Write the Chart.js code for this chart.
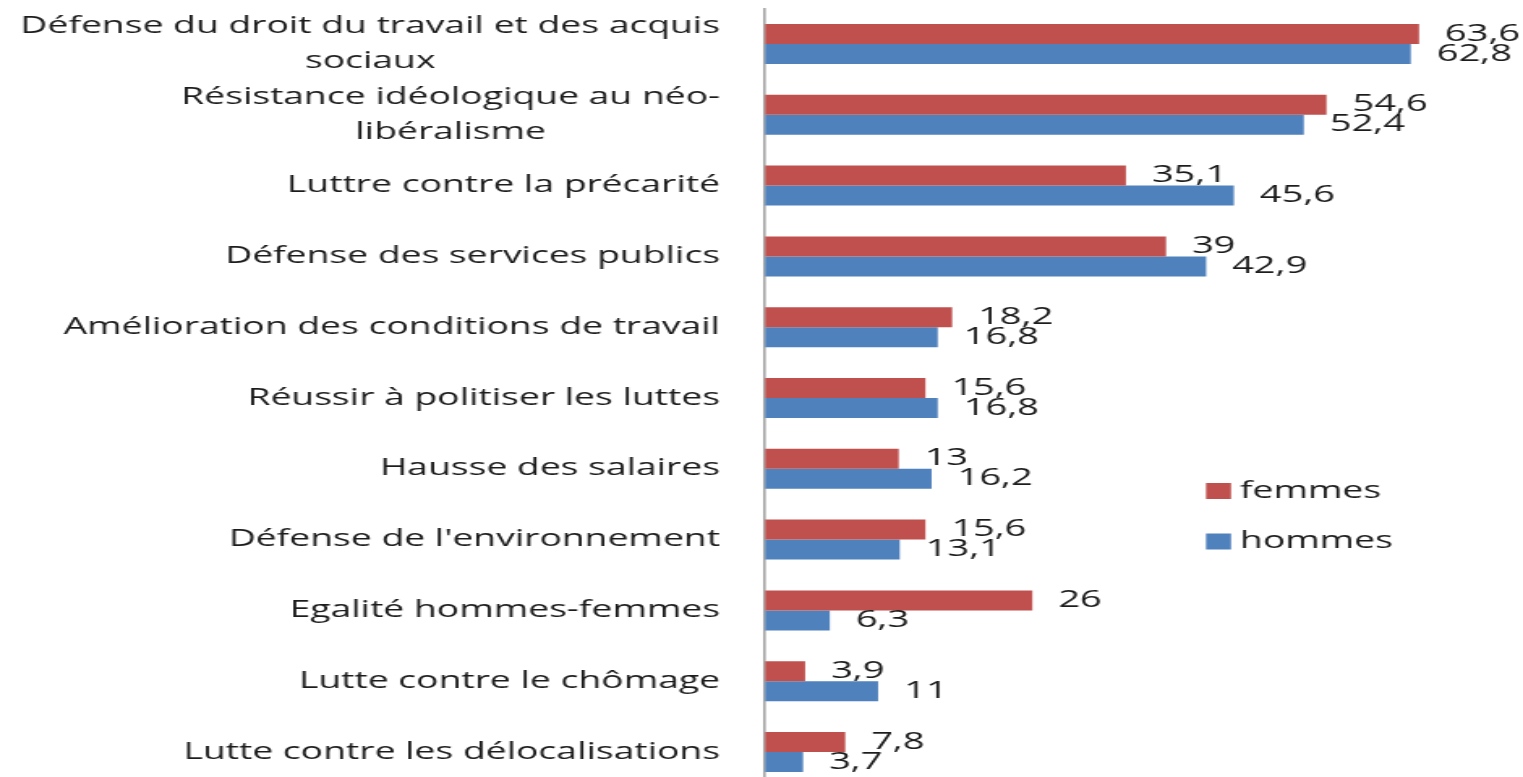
<!DOCTYPE html>
<html>
<head>
<meta charset="utf-8">
<script src="https://cdn.jsdelivr.net/npm/chart.js@4.4.1/dist/chart.umd.min.js"></script>
<style>
  html, body { margin: 0; padding: 0; background: #ffffff; overflow: hidden; }
</style>
</head>
<body>
<canvas id="c" width="940" height="790" style="display:block;width:1523px;height:790px;"></canvas>
<script>
// ---- data ----
const categories = [
  ["Défense du droit du travail et des acquis", "sociaux"],
  ["Résistance idéologique au néo-", "libéralisme"],
  "Luttre contre la précarité",
  "Défense des services publics",
  "Amélioration des conditions de travail",
  "Réussir à politiser les luttes",
  "Hausse des salaires",
  "Défense de l'environnement",
  "Egalité hommes-femmes",
  "Lutte contre le chômage",
  "Lutte contre les délocalisations"
];
const femmes = [63.6, 54.6, 35.1, 39, 18.2, 15.6, 13, 15.6, 26, 3.9, 7.8];
const hommes = [62.8, 52.4, 45.6, 42.9, 16.8, 16.8, 16.2, 13.1, 6.3, 11, 3.7];
const seriesNames = ["femmes", "hommes"];

// ---- layout / style ----
const SX = 1523 / 940;              // horizontal stretch of the picture
const AXIS_X = 765 / SX;            // value-axis origin in canvas px
const FONT = "'Open Sans', 'DejaVu Sans', sans-serif";
const TEXT = '#1c1c1c';
const RED = '#C0504D';
const BLUE = '#4F81BD';

const categoryLabels = {
  id: 'categoryLabels',
  afterDraw(chart) {
    const ctx = chart.ctx;
    const y = chart.scales.y;
    const rightX = 720 / SX;
    ctx.save();
    ctx.font = `23px ${FONT}`;
    ctx.fillStyle = TEXT;
    ctx.textBaseline = 'middle';
    chart.data.labels.forEach((lab, i) => {
      const py = y.getPixelForValue(i);
      const lines = Array.isArray(lab) ? lab : [lab];
      if (lines.length === 1) {
        ctx.textAlign = 'right';
        ctx.fillText(lines[0], rightX, py);
      } else {
        const lh = 35;
        const w = Math.max(...lines.map(l => ctx.measureText(l).width));
        const cx = rightX - w / 2;
        ctx.textAlign = 'center';
        lines.forEach((l, k) => {
          ctx.fillText(l, cx, py + (k - (lines.length - 1) / 2) * lh);
        });
      }
    });
    ctx.restore();
  }
};

const valueLabels = {
  id: 'valueLabels',
  afterDatasetsDraw(chart) {
    const ctx = chart.ctx;
    ctx.save();
    ctx.font = `23.5px ${FONT}`;
    ctx.fillStyle = TEXT;
    ctx.textAlign = 'left';
    ctx.textBaseline = 'middle';
    chart.data.datasets.forEach((ds, di) => {
      const meta = chart.getDatasetMeta(di);
      meta.data.forEach((el, i) => {
        const txt = String(ds.data[i]).replace('.', ',');
        ctx.fillText(txt, el.x + 16, el.y);
      });
    });
    ctx.restore();
  }
};

const sideLegend = {
  id: 'sideLegend',
  afterDraw(chart) {
    const ctx = chart.ctx;
    ctx.save();
    ctx.font = `23px ${FONT}`;
    ctx.textAlign = 'left';
    ctx.textBaseline = 'middle';
    const boxX = 1206 / SX, boxW = 25 / SX, boxH = 16;
    const textX = 1240 / SX;
    const rows = [491, 541.5];
    chart.data.datasets.forEach((ds, i) => {
      const cy = rows[i];
      ctx.fillStyle = ds.backgroundColor;
      ctx.fillRect(boxX, cy - boxH / 2, boxW, boxH);
      ctx.fillStyle = TEXT;
      ctx.fillText(ds.label, textX, cy);
    });
    ctx.restore();
  }
};

new Chart(document.getElementById('c'), {
  type: 'bar',
  data: {
    labels: categories,
    datasets: [
      { label: seriesNames[0], data: femmes, backgroundColor: RED, borderWidth: 0,
        categoryPercentage: 0.565, barPercentage: 1.0 },
      { label: seriesNames[1], data: hommes, backgroundColor: BLUE, borderWidth: 0,
        categoryPercentage: 0.565, barPercentage: 1.0 }
    ]
  },
  options: {
    indexAxis: 'y',
    responsive: false,
    maintainAspectRatio: false,
    devicePixelRatio: 1,
    animation: false,
    layout: {
      autoPadding: false,
      padding: { left: 0, right: 940 - (AXIS_X + 70 * (10.283 / SX)), top: 8.6, bottom: 2.6 }
    },
    plugins: {
      legend: { display: false },
      tooltip: { enabled: false },
      title: { display: false }
    },
    scales: {
      x: {
        display: false,
        min: 0,
        max: 70,
        grid: { display: false }
      },
      y: {
        display: true,
        grid: { display: false, drawTicks: false },
        border: { display: true, color: '#a3a3a3', width: 1.6 },
        ticks: { display: false },
        afterFit(scale) { scale.width = AXIS_X; }
      }
    }
  },
  plugins: [categoryLabels, valueLabels, sideLegend]
});
</script>
</body>
</html>
